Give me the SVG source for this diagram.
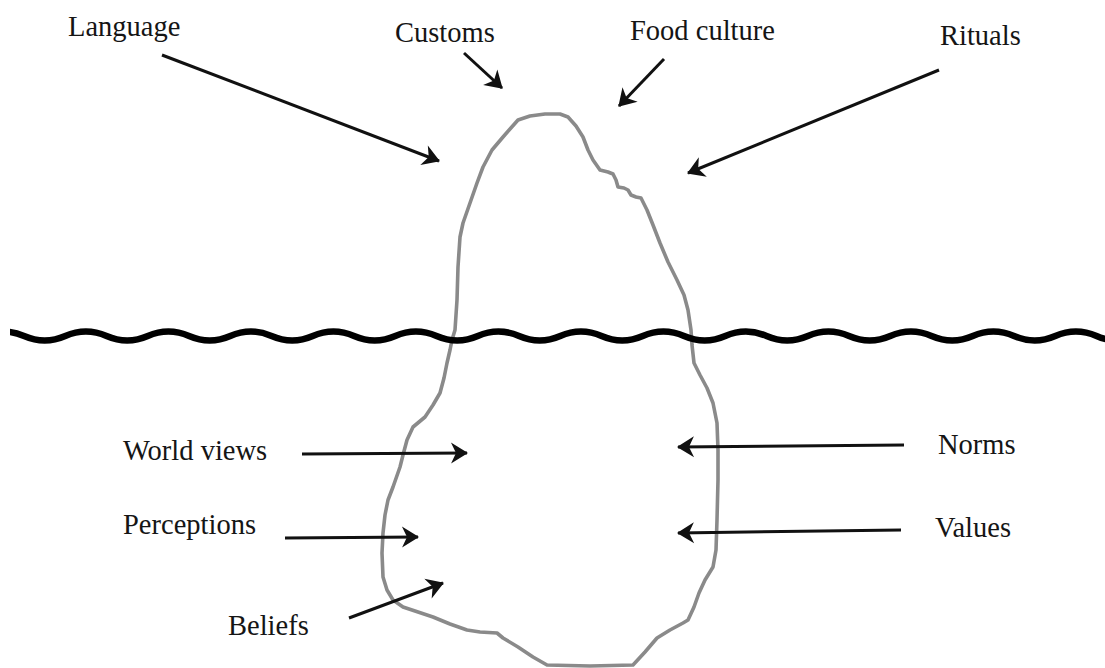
<svg xmlns="http://www.w3.org/2000/svg" width="1105" height="668" viewBox="0 0 1105 668">
<style>
  .lbl { font-family: "Liberation Serif", "Times New Roman", serif; font-size: 28.5px; fill: #151515; }
  .arr { stroke: #111; stroke-width: 3; fill: none; stroke-linecap: butt; marker-end: url(#head); }
  .berg { fill: none; stroke: #8a8a8a; stroke-width: 3.6; stroke-linejoin: round; }
  .wave { fill: none; stroke: #000; stroke-width: 6.5; }
</style>
<defs>
  <marker id="head" markerUnits="userSpaceOnUse" markerWidth="24" markerHeight="24" refX="16" refY="11" orient="auto" overflow="visible">
    <path d="M17,11 L0,0.5 L5,11 L0,21.5 Z" fill="#111"/>
  </marker>
  <clipPath id="waveclip"><rect x="10" y="300" width="1100" height="80"/></clipPath>
</defs>
<rect width="1105" height="668" fill="#fff"/>

<g id="iceberg">
  <path class="berg" d="M518,120 L530,116 L545,114 L560,114 L568,117 L576,126 L583,137 L588,150 L593,160 L600,170 L608,172 L613,174 L616,180 L618,187 L624,188 L628,190 L631,195 L636,197 L641,198 L647,210 L653,225 L660,243 L668,262 L677,280 L684,295 L688,310 L691,330 L692,345 L694,363 L700,375 L707,388 L713,403 L717,423 L718,450 L718,480 L717,520 L716,550 L713,567 L705,580 L699,593 L694,607 L688,620 L683,623 L670,630 L657,638 L645,652 L633,665 L590,666 L547,665 L533,657 L518,647 L503,638 L497,633 L480,632 L467,630 L450,624 L433,617 L415,611 L403,607 L393,600 L387,590 L383,577 L382,553 L383,533 L385,515 L388,500 L393,487 L400,467 L403,455 L407,440 L413,427 L425,417 L433,405 L440,393 L444,378 L447,363 L450,350 L452,340 L455,330 L457,300 L458,267 L460,237 L463,223 L470,203 L477,183 L483,167 L492,150 L503,137 Z"/>
</g>

<g id="waterline" clip-path="url(#waveclip)">
  <path class="wave" d="M-17.2,336 Q3.4,327 24.05,336 T65.3,336 T106.55,336 T147.8,336 T189.05,336 T230.3,336 T271.55,336 T312.8,336 T354.05,336 T395.3,336 T436.55,336 T477.8,336 T519.05,336 T560.3,336 T601.55,336 T642.8,336 T684.05,336 T725.3,336 T766.55,336 T807.8,336 T849.05,336 T890.3,336 T931.55,336 T972.8,336 T1014.05,336 T1055.3,336 T1096.55,336 T1137.8,336"/>
</g>

<g id="connectors">
  <line class="arr" x1="162" y1="55" x2="439" y2="161"/>
  <line class="arr" x1="464" y1="53" x2="502" y2="88"/>
  <line class="arr" x1="664" y1="59" x2="619" y2="106"/>
  <line class="arr" x1="939" y1="70" x2="688" y2="173"/>
  <line class="arr" x1="302" y1="454" x2="467" y2="453"/>
  <line class="arr" x1="285" y1="538" x2="418" y2="537"/>
  <line class="arr" x1="349" y1="618" x2="443" y2="583"/>
  <line class="arr" x1="904" y1="445" x2="678" y2="447"/>
  <line class="arr" x1="901" y1="530" x2="678" y2="533"/>
</g>

<g id="language"><text class="lbl" x="68" y="36">Language</text></g>
<g id="customs"><text class="lbl" x="395" y="42">Customs</text></g>
<g id="food-culture"><text class="lbl" x="630" y="40">Food culture</text></g>
<g id="rituals"><text class="lbl" x="940" y="45">Rituals</text></g>
<g id="world-views"><text class="lbl" x="123" y="460">World views</text></g>
<g id="perceptions"><text class="lbl" x="123" y="534">Perceptions</text></g>
<g id="beliefs"><text class="lbl" x="228" y="635">Beliefs</text></g>
<g id="norms"><text class="lbl" x="938" y="454">Norms</text></g>
<g id="values"><text class="lbl" x="935" y="537">Values</text></g>
</svg>
